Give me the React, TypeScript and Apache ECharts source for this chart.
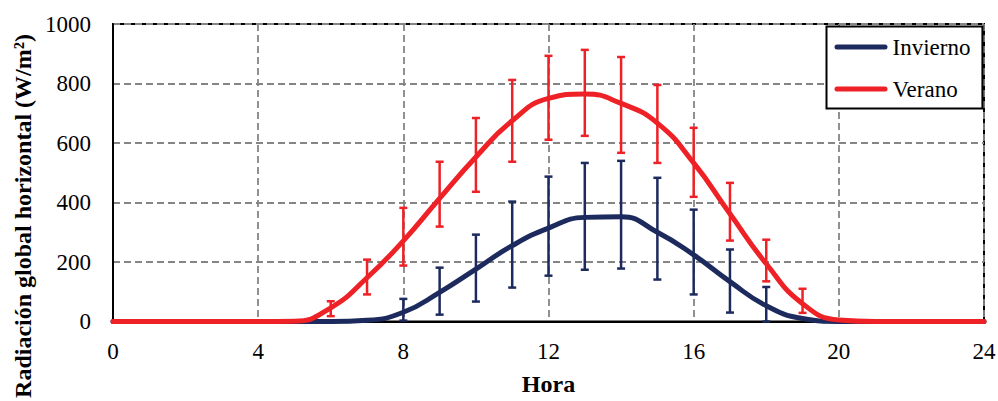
import React, { useEffect, useRef } from "react";
import * as echarts from "echarts";

const hours = [0, 1, 2, 3, 4, 5, 6, 7, 8, 9, 10, 11, 12, 13, 14, 15, 16, 17, 18, 19, 20, 21, 22, 23, 24];
const verano = [0, 0, 0, 0, 0, 1, 46, 147, 271, 414, 553, 675, 750, 765, 733, 667, 533, 362, 194, 60, 5, 0, 0, 0, 0];
const invierno = [0, 0, 0, 0, 0, 0, 0, 4, 31, 98, 176, 255, 314, 350, 352, 300, 224, 134, 53, 10, 0, 0, 0, 0, 0];

const veranoBarHours = [6, 7, 8, 9, 10, 11, 12, 13, 14, 15, 16, 17, 18, 19];
const veranoLow = [18, 91, 188, 319, 436, 537, 611, 624, 567, 533, 419, 272, 135, 29];
const veranoHigh = [68, 208, 382, 537, 684, 812, 893, 913, 889, 795, 651, 466, 275, 110];

const inviernoBarHours = [8, 9, 10, 11, 12, 13, 14, 15, 16, 17, 18];
const inviernoLow = [3, 23, 67, 114, 154, 174, 178, 141, 91, 30, 0];
const inviernoHigh = [76, 181, 292, 403, 487, 533, 540, 483, 376, 242, 116];

const xTicks = [0, 4, 8, 12, 16, 20, 24];
const yTicks = [0, 200, 400, 600, 800, 1000];

const RED = "#EE2126";
const BLUE = "#1D2A5E";
const FONT = "Liberation Serif";
const PILL = "path://M2.5 0H50.5A2.5 2.5 0 0 1 50.5 5H2.5A2.5 2.5 0 0 1 2.5 0Z";

function errorBars(color: string) {
  return (params: any, api: any) => {
    const x = api.value(0);
    const lo = api.value(1);
    const hi = api.value(2);
    const pLo = api.coord([x, lo]);
    const pHi = api.coord([x, hi]);
    const hw = 4;
    const style = { stroke: color, lineWidth: 2.5, fill: null };
    return {
      type: "group",
      children: [
        { type: "line", shape: { x1: pLo[0], y1: pLo[1], x2: pHi[0], y2: pHi[1] }, style },
        { type: "line", shape: { x1: pHi[0] - hw, y1: pHi[1], x2: pHi[0] + hw, y2: pHi[1] }, style },
        { type: "line", shape: { x1: pLo[0] - hw, y1: pLo[1], x2: pLo[0] + hw, y2: pLo[1] }, style },
      ],
    };
  };
}

export default function App() {
  const ref = useRef<HTMLDivElement>(null);

  useEffect(() => {
    if (!ref.current) return;
    const chart = echarts.init(ref.current, undefined, { renderer: "svg" });
    const gridLine = { show: true, lineStyle: { color: "#858585", width: 1.8, type: [7, 4] as any } };
    chart.setOption({
      animation: false,
      backgroundColor: "#fff",
      grid: {
        left: 113,
        top: 24,
        right: 14,
        bottom: 79.5,
        containLabel: false,
        outerBoundsMode: "none",
        show: true,
        borderColor: "#000",
        borderWidth: 2,
        backgroundColor: "transparent",
      },
      legend: {
        data: [
          { name: "Invierno", icon: PILL, itemStyle: { color: BLUE } },
          { name: "Verano", icon: PILL, itemStyle: { color: RED } },
        ],
        orient: "vertical",
        left: 826.5,
        top: 26.5,
        padding: [9, 12, 8, 8],
        itemWidth: 53,
        itemHeight: 5,
        itemGap: 19,
        borderColor: "#000",
        borderWidth: 2,
        backgroundColor: "#fff",
        textStyle: { fontFamily: FONT, fontSize: 23, color: "#000", lineHeight: 23 },
      },
      xAxis: {
        type: "value",
        min: 0,
        max: 24,
        interval: 4,
        name: "Hora",
        nameLocation: "middle",
        nameGap: 50,
        nameTextStyle: { fontFamily: FONT, fontSize: 24, fontWeight: "bold", color: "#000" },
        axisLine: { show: true, lineStyle: { color: "#000", width: 2 } },
        axisTick: { show: false },
        axisLabel: {
          fontFamily: FONT,
          fontSize: 23,
          color: "#000",
          margin: 18,
          formatter: (v: number) => (xTicks.includes(v) ? String(v) : ""),
        },
        splitLine: gridLine,
      },
      yAxis: {
        type: "value",
        min: 0,
        max: 1000,
        interval: 200,
        axisLine: { show: true, lineStyle: { color: "#000", width: 2 } },
        axisTick: { show: false },
        axisLabel: {
          fontFamily: FONT,
          fontSize: 23,
          color: "#000",
          margin: 22,
          formatter: (v: number) => (yTicks.includes(v) ? String(v) : ""),
        },
        splitLine: gridLine,
      },
      graphic: [
        {
          type: "text",
          x: 23,
          y: 216,
          rotation: Math.PI / 2,
          style: {
            text: "Radiación global horizontal (W/m²)",
            fontFamily: FONT,
            fontSize: 24,
            fontWeight: "bold",
            fill: "#000",
            align: "center",
            verticalAlign: "middle",
          },
        },
      ],
      series: [
        {
          name: "Invierno",
          type: "line",
          data: hours.map((h, i) => [h, invierno[i]]),
          smooth: 0.5,
          symbol: "none",
          lineStyle: { color: BLUE, width: 5, cap: "round" },
          itemStyle: { color: BLUE },
          z: 3,
        },
        {
          name: "Invierno-err",
          type: "custom",
          data: inviernoBarHours.map((h, i) => [h, inviernoLow[i], inviernoHigh[i]]),
          renderItem: errorBars(BLUE),
          encode: { x: 0, y: [1, 2] },
          clip: false,
          z: 4,
        },
        {
          name: "Verano",
          type: "line",
          data: hours.map((h, i) => [h, verano[i]]),
          smooth: 0.5,
          symbol: "none",
          lineStyle: { color: RED, width: 5, cap: "round" },
          itemStyle: { color: RED },
          z: 5,
        },
        {
          name: "Verano-err",
          type: "custom",
          data: veranoBarHours.map((h, i) => [h, veranoLow[i], veranoHigh[i]]),
          renderItem: errorBars(RED),
          encode: { x: 0, y: [1, 2] },
          clip: false,
          z: 6,
        },
      ],
    });
    return () => chart.dispose();
  }, []);

  return (
    <div
      ref={ref}
      style={{ position: "fixed", left: 0, top: 0, width: 998, height: 401, background: "#fff" }}
    />
  );
}
